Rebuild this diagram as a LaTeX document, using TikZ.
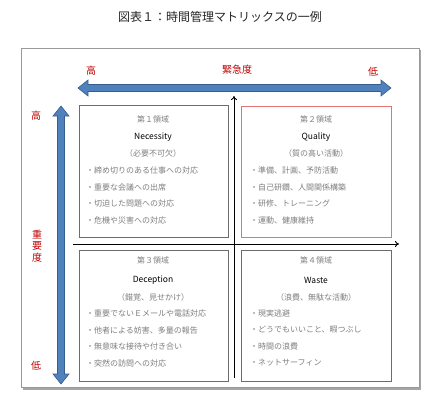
\documentclass[tikz,border=0pt]{standalone}
\usepackage{fontspec}
\setmainfont{Noto Sans CJK JP}
\usetikzlibrary{arrows.meta}
\definecolor{axisblue}{HTML}{4F81BD}
\definecolor{axisborder}{HTML}{385D8A}
\definecolor{lblred}{HTML}{C00000}
\definecolor{qred}{HTML}{E57373}
\definecolor{bodygray}{HTML}{7F7F7F}
\begin{document}
\begin{tikzpicture}[x=1pt,y=-1pt,
  quad/.style={draw=gray!85!black,line width=1.3pt,fill=white},
  quadred/.style={draw=qred,line width=1.3pt,fill=white},
  head/.style={font=\fontsize{8}{9}\selectfont,text=bodygray,inner sep=0pt},
  title/.style={font=\fontsize{8.5}{10}\selectfont,text=black,inner sep=0pt},
  item/.style={font=\fontsize{8}{9}\selectfont,text=bodygray,anchor=west,inner sep=0pt},
  redlbl/.style={font=\fontsize{10}{11}\selectfont,text=lblred,inner sep=0pt},
  blueaxis/.style={fill=axisblue,draw=axisborder,line width=0.6pt},
  blackaxis/.style={draw=black,line width=0.9pt,-{To[length=4pt,width=6pt]}}]
\useasboundingbox (0,0) rectangle (444,407);
\fill[white] (0,0) rectangle (444,407);
% title
\node[font=\fontsize{12}{14}\selectfont,text=black!85] (ttl) at (220,17) {図表１：時間管理マトリックスの一例};
% outer frame with shadow
\fill[gray!70] (23,50) rectangle (421,390);
\draw[gray!80,line width=0.8pt,fill=white] (21,48) rectangle (419,387);
% horizontal blue double arrow
\coordinate (hl) at (78,88);
\coordinate (hr) at (391,88);
\filldraw[blueaxis] (hl) -- ++(10,-8) -- ++(0,4.5) -- (381,84.5) -- (381,80) -- (hr) -- (381,96) -- (381,91.5) -- (88,91.5) -- (88,96) -- cycle;
% vertical blue double arrow
\coordinate (vt) at (61,106);
\coordinate (vb) at (61,384);
\filldraw[blueaxis] (vt) -- ++(8,10) -- ++(-4.5,0) -- (64.5,374) -- (69,374) -- (vb) -- (53,374) -- (57.5,374) -- (57.5,116) -- (53,116) -- cycle;
% labels
\node[redlbl] (uhi) at (91,71) {高};
\node[redlbl] (ulab) at (237,70) {緊急度};
\node[redlbl] (ulo) at (373,72) {低};
\node[redlbl] (ihi) at (36,116) {高};
\node[redlbl,align=center,font=\fontsize{10}{11.5}\selectfont] (ilab) at (37,246) {重\\要\\度};
\node[redlbl] (ilo) at (36,366) {低};
% quadrants
\node[quad,minimum width=149pt,minimum height=132pt,anchor=north west,inner sep=0pt] (q1) at (79,105) {};
\node[quadred,minimum width=150pt,minimum height=131pt,anchor=north west,inner sep=0pt] (q2) at (241,106) {};
\node[quad,minimum width=149pt,minimum height=131pt,anchor=north west,inner sep=0pt] (q3) at (79,250) {};
\node[quad,minimum width=150pt,minimum height=131pt,anchor=north west,inner sep=0pt] (q4) at (241,250) {};
% black axes
\coordinate (ax0) at (234,378);
\coordinate (ax1) at (234,96);
\coordinate (ay0) at (73,244);
\coordinate (ay1) at (399,244);
\draw[blackaxis] (ax0) -- (ax1);
\draw[blackaxis] (ay0) -- (ay1);
% Q1
\node[head] (q1a) at (153,119) {第１領域};
\node[title] (q1b) at (153,137) {Necessity};
\node[head] (q1c) at (153,153) {（必要不可欠）};
\node[item] (q1d) at (86,170) {・締め切りのある仕事への対応};
\node[item] (q1e) at (86,187) {・重要な会議への出席};
\node[item] (q1f) at (86,203) {・切迫した問題への対応};
\node[item] (q1g) at (86,220) {・危機や災害への対応};
% Q2
\node[head] (q2a) at (316,119) {第２領域};
\node[title] (q2b) at (316,137) {Quality};
\node[head] (q2c) at (316,153) {（質の高い活動）};
\node[item] (q2d) at (250,170) {・準備、計画、予防活動};
\node[item] (q2e) at (250,187) {・自己研鑽、人間関係構築};
\node[item] (q2f) at (250,203) {・研修、トレーニング};
\node[item] (q2g) at (250,220) {・運動、健康維持};
% Q3
\node[head] (q3a) at (153,260) {第３領域};
\node[title] (q3b) at (153,280) {Deception};
\node[head] (q3c) at (153,297) {（錯覚、見せかけ）};
\node[item] (q3d) at (86,313) {・重要でないＥメールや電話対応};
\node[item] (q3e) at (86,330) {・他者による妨害、多量の報告};
\node[item] (q3f) at (86,346) {・無意味な接待や付き合い};
\node[item] (q3g) at (86,363) {・突然の訪問への対応};
% Q4
\node[head] (q4a) at (316,260) {第４領域};
\node[title] (q4b) at (316,280) {Waste};
\node[head] (q4c) at (316,297) {（浪費、無駄な活動）};
\node[item] (q4d) at (250,313) {・現実逃避};
\node[item] (q4e) at (250,330) {・どうでもいいこと、暇つぶし};
\node[item] (q4f) at (250,346) {・時間の浪費};
\node[item] (q4g) at (250,363) {・ネットサーフィン};
\end{tikzpicture}
\end{document}
